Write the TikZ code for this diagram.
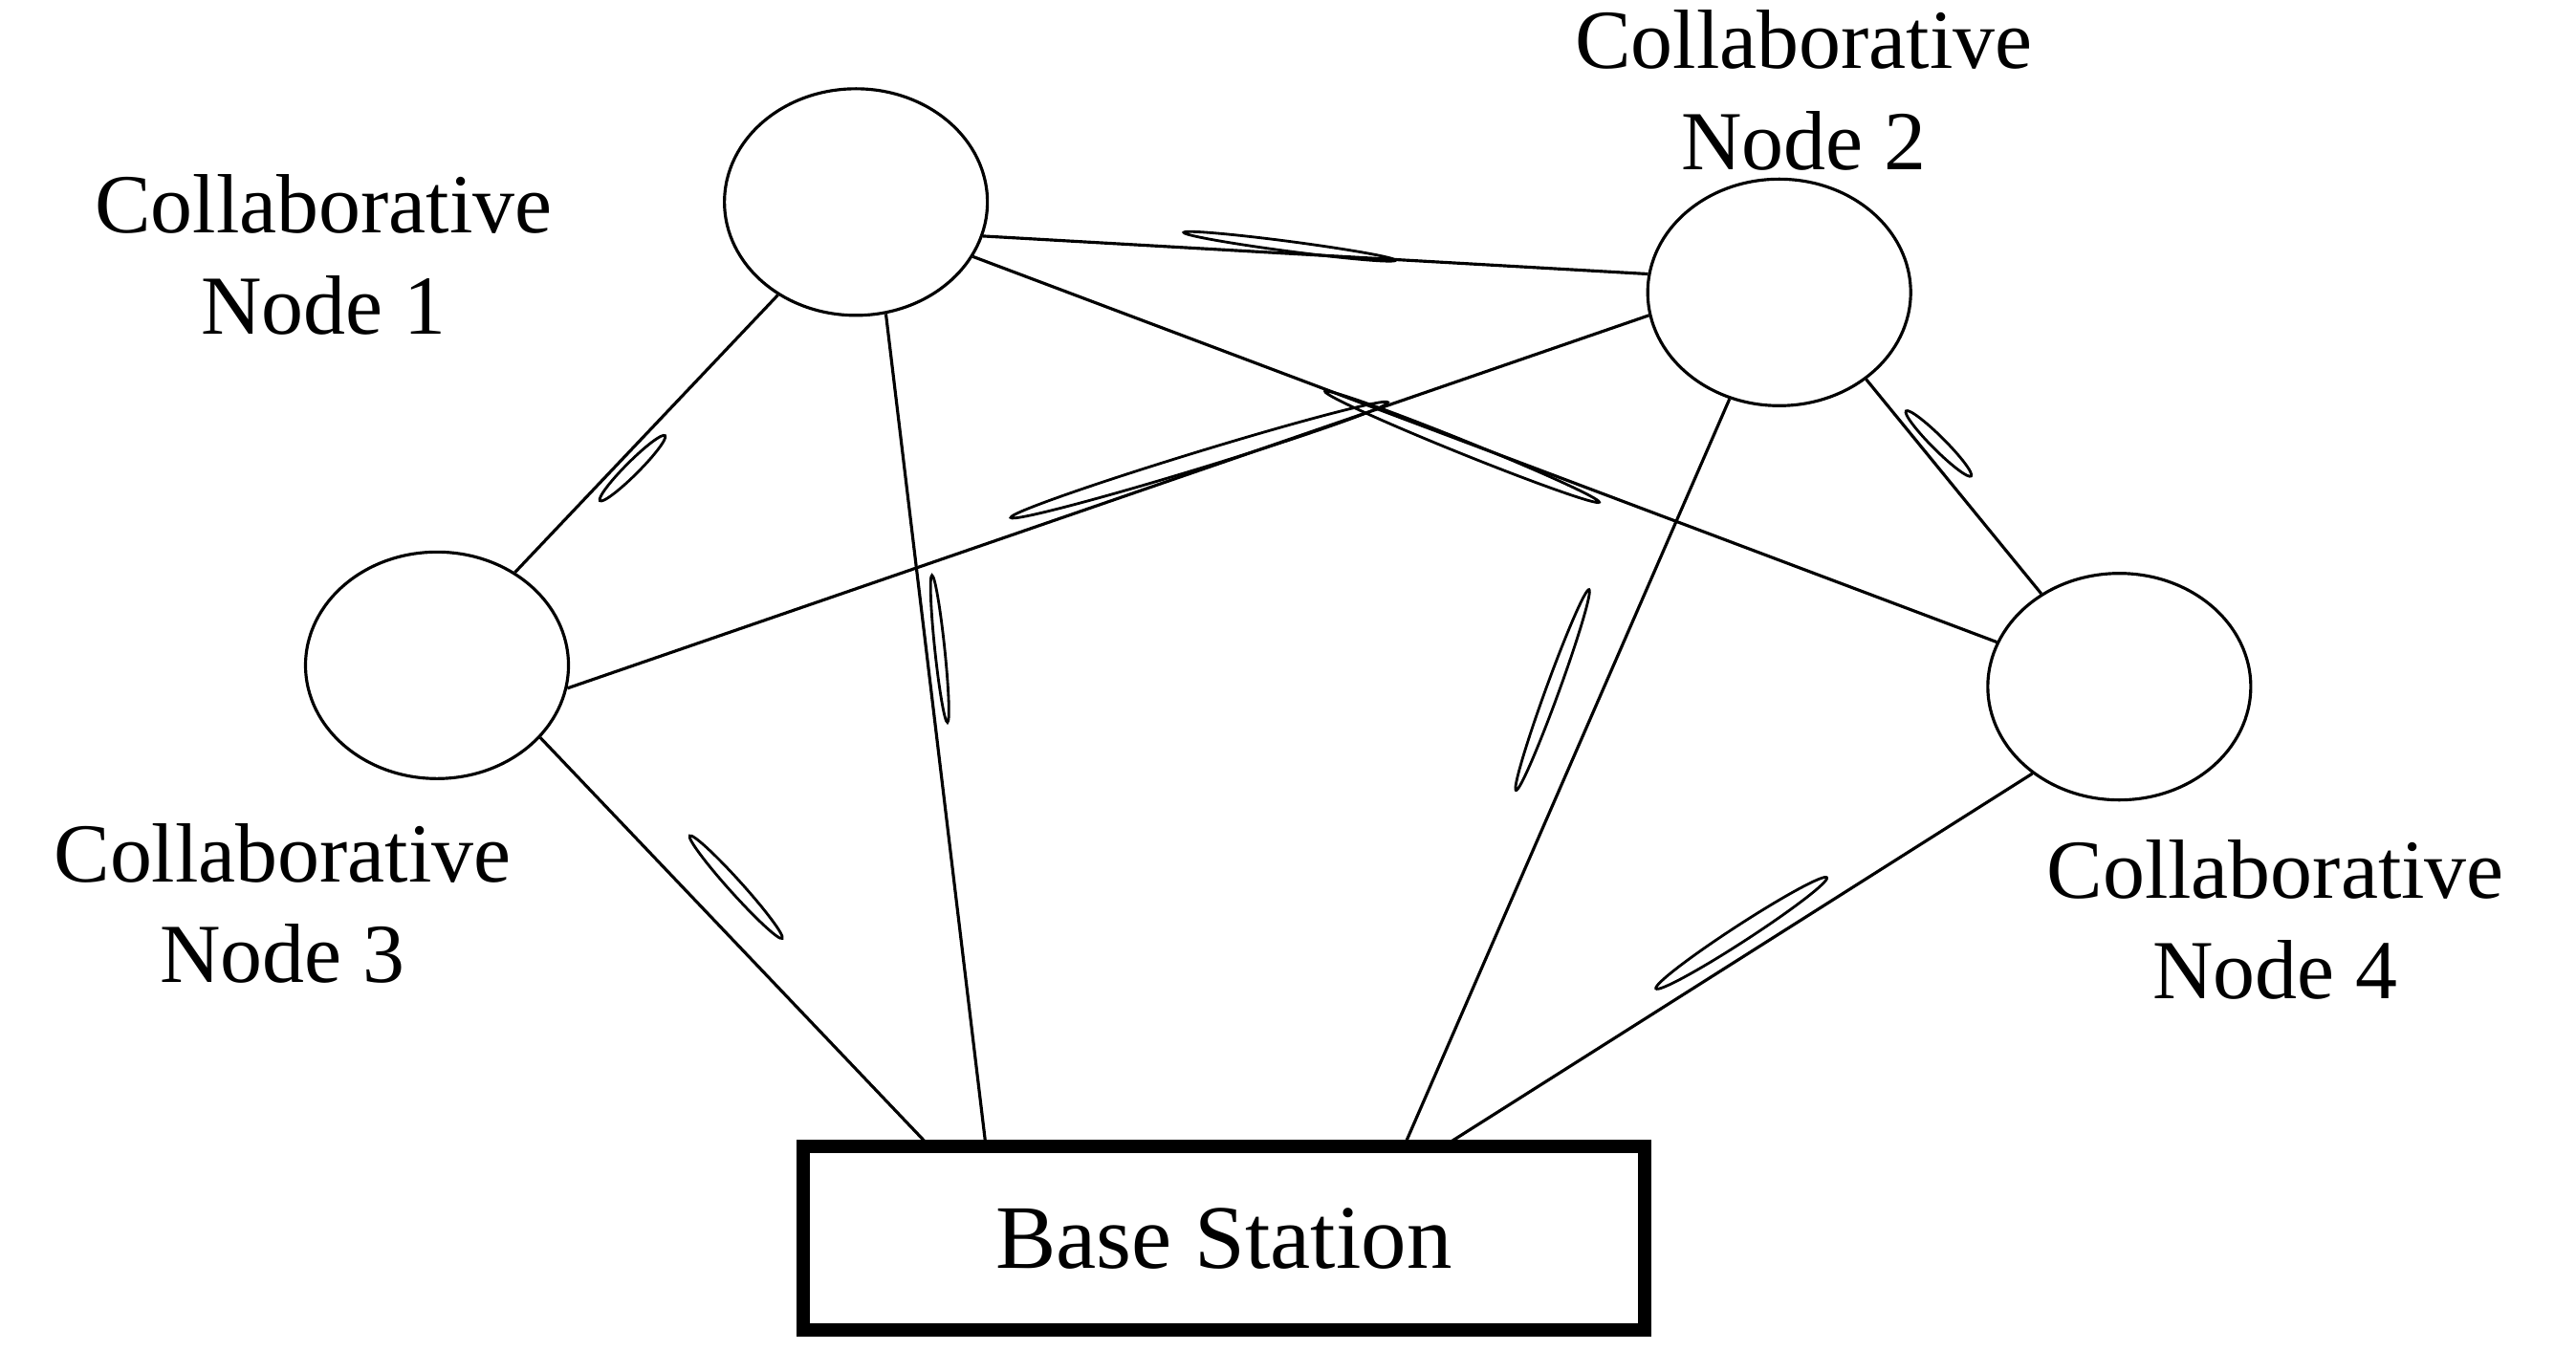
\documentclass[tikz,border=0pt]{standalone}
\usepackage{fontspec}
\setmainfont{Liberation Serif}
\usetikzlibrary{shapes.geometric}
\begin{document}
\begin{tikzpicture}[x=0.01718cm,y=-0.01718cm,
  cn/.style={draw,ellipse,minimum width=2.75cm,minimum height=2.37cm,inner sep=0,line width=0.9pt},
  lk/.style={line width=0.9pt},
  lab/.style={align=center,font=\fontsize{25}{30}\selectfont},
  zap/.style={line width=0.8pt}]
\useasboundingbox (0,0) rectangle (1568,822);
\node[cn] (n1) at (521,123) {};
\node[cn] (n2) at (1083,178) {};
\node[cn] (n3) at (266,405) {};
\node[cn] (n4) at (1290,418) {};
\node[draw,line width=4pt,minimum width=8.8cm,minimum height=1.92cm,font=\fontsize{27}{31}\selectfont] (bs) at (745,754) {Base Station};
\node[lab] (l1) at (197,155) {Collaborative\\Node 1};
\node[lab] (l2) at (1098,55) {Collaborative\\Node 2};
\node[lab] (l3) at (172,550) {Collaborative\\Node 3};
\node[lab] (l4) at (1385,560) {Collaborative\\Node 4};
\coordinate (b1) at (565,697);
\coordinate (b2) at (600,697);
\coordinate (b3) at (855,697);
\coordinate (b4) at (880,697);
\draw[lk] (n1.-15) -- (n2.172);
\draw[lk] (n1.-130) -- (n3.50);
\draw[lk] (n1.-25) -- (n4.160);
\draw[lk] (n1.-75) -- (b2);
\draw[lk] (n2.190) -- (n3.-10);
\draw[lk] (n2.-45) -- (n4.130);
\draw[lk] (n2.-115) -- (b3);
\draw[lk] (n3.-35) -- (b1);
\draw[lk] (n4.-135) -- (b4);
\draw[zap] (785,150) ellipse [x radius=65,y radius=3,rotate=-7.5];
\draw[zap] (385,285) ellipse [x radius=28,y radius=4,rotate=-135];
\draw[zap] (730,280) ellipse [x radius=120,y radius=5,rotate=17];
\draw[zap] (890,272) ellipse [x radius=90,y radius=4,rotate=-22];
\draw[zap] (572,395) ellipse [x radius=45,y radius=3,rotate=-84];
\draw[zap] (945,420) ellipse [x radius=65,y radius=4,rotate=-110];
\draw[zap] (1180,270) ellipse [x radius=28,y radius=4,rotate=-45];
\draw[zap] (448,540) ellipse [x radius=42,y radius=4,rotate=-48];
\draw[zap] (1060,568) ellipse [x radius=62,y radius=5,rotate=-147];
\end{tikzpicture}
\end{document}
